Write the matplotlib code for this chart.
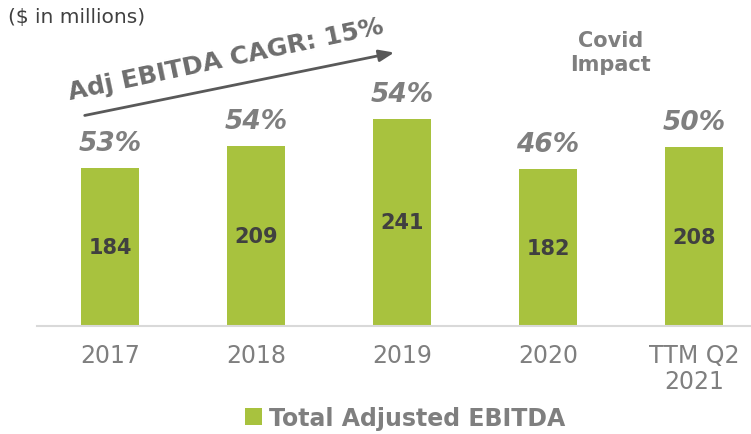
import numpy as np
import matplotlib
matplotlib.use("Agg")
from matplotlib import pyplot as plt

# data
categories = ["2017", "2018", "2019", "2020", "TTM Q2\n2021"]
ebitda = [184, 209, 241, 182, 208]
margins = ["53%", "54%", "54%", "46%", "50%"]

green = "#a8c23e"
grey = "#7f7f7f"
dark = "#404040"

fig = plt.figure(figsize=(7.51, 4.35), dpi=100)
ax = fig.add_axes([37 / 751, 108 / 435, 714 / 751, 327 / 435])

x = np.arange(len(categories))
bars = ax.bar(x, ebitda, width=0.4, color=green, label="Total Adjusted EBITDA")
ax.set_xlim(-0.5, 4.39)
ax.set_ylim(0, 380)

for b, v, m in zip(bars, ebitda, margins):
    cx = b.get_x() + b.get_width() / 2
    ax.text(cx, v / 2, str(v), ha="center", va="center", fontsize=15,
            fontweight="bold", color=dark)
    ax.annotate(m, (cx, v), xytext=(0, 18), textcoords="offset points",
                ha="center", va="center", fontsize=19, fontweight="bold",
                fontstyle="italic", color=grey)

for s in ["top", "right", "left"]:
    ax.spines[s].set_visible(False)
ax.spines["bottom"].set_color("#d9d9d9")
ax.spines["bottom"].set_linewidth(1.5)
ax.set_yticks([])
ax.set_xticks(x)
ax.set_xticklabels(categories, fontsize=17, color=grey, linespacing=1.1)
ax.tick_params(axis="x", length=0, pad=12)

# annotations
fig.text(8 / 751, 1 - 18 / 435, "($ in millions)", fontsize=14.5, color=dark,
         va="center", ha="left")
ax.annotate("", xy=(397, 435 - 53), xycoords="figure pixels",
            xytext=(82, 435 - 117), textcoords="figure pixels",
            arrowprops=dict(arrowstyle="-|>,head_length=0.9,head_width=0.35",
                            color="#595959", lw=2))
fig.text(226 / 751, 1 - 60 / 435, "Adj EBITDA CAGR: 15%", rotation=12,
         rotation_mode="anchor", ha="center", va="center", fontsize=18,
         fontweight="bold", color="#6d6d6d")
fig.text(611 / 751, 1 - 53 / 435, "Covid\nImpact", ha="center", va="center",
         fontsize=15, fontweight="bold", color=grey, linespacing=1.25)

leg = fig.legend(loc="center", bbox_to_anchor=(405 / 751, 1 - 419 / 435),
                 frameon=False, handlelength=0.7, handleheight=0.7,
                 handletextpad=0.3, prop=dict(weight="bold", size=17))
for t in leg.get_texts():
    t.set_color(grey)

fig.savefig("out.png", dpi=100)
